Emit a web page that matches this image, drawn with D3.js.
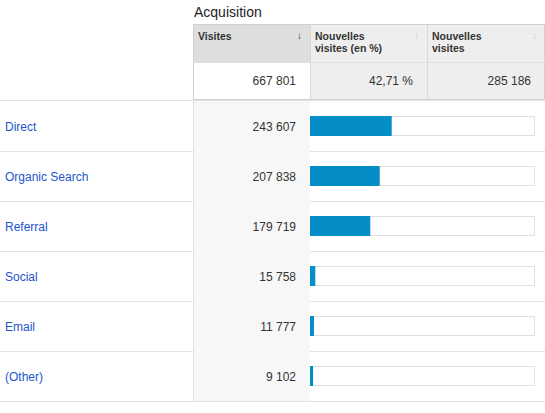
<!DOCTYPE html><html><head><meta charset="utf-8"><script src="https://d3js.org/d3.v7.min.js"></script>
<style>body{margin:0;background:#fff}</style></head><body><svg id="c" width="545" height="413"></svg>
<script>
const categories=["Direct","Organic Search","Referral","Social","Email","(Other)"];
const visits=[243607,207838,179719,15758,11777,9102];
const visitLabels=["243 607","207 838","179 719","15 758","11 777","9 102"];
const headers=["Visites","Nouvelles\nvisites (en %)","Nouvelles\nvisites"];
const totals=["667 801","42,71 %","285 186"];
const totalVisits=667801;
const svg=d3.select("#c"),F="Arial, Liberation Sans, sans-serif";
const colX=[193,310,427,545];
svg.append("text").attr("x",194).attr("y",17).attr("font-family",F).attr("font-size",14).attr("fill","#222").text("Acquisition");
// header
headers.forEach((h,i)=>{
 svg.append("rect").attr("x",colX[i]).attr("y",24).attr("width",colX[i+1]-colX[i]).attr("height",38).attr("fill",i==0?"#dedede":"#eeeeee");
 h.split("\n").forEach((l,j)=>svg.append("text").attr("x",colX[i]+5).attr("y",40+j*12).attr("font-family",F).attr("font-size",10.5).attr("font-weight","bold").attr("fill","#333").text(l));
 svg.append("text").attr("x",colX[i+1]-8).attr("y",39).attr("text-anchor","end").attr("font-family",F).attr("font-size",10).attr("fill",i==0?"#444":"#ccc").text("↓");
 svg.append("rect").attr("x",colX[i]).attr("y",62).attr("width",colX[i+1]-colX[i]).attr("height",38).attr("fill",i==0?"#fff":"#eeeeee");
 svg.append("text").attr("x",colX[i+1]-14).attr("y",85).attr("text-anchor","end").attr("font-family",F).attr("font-size",12).attr("fill","#333").text(totals[i]);
 if(i>0)svg.append("line").attr("x1",colX[i]+.5).attr("x2",colX[i]+.5).attr("y1",24).attr("y2",100).attr("stroke","#d8d8d8");
});
svg.append("rect").attr("x",193.5).attr("y",24.5).attr("width",351).attr("height",75).attr("fill","none").attr("stroke","#d0d0d0");
svg.append("line").attr("x1",193).attr("x2",545).attr("y1",62.5).attr("y2",62.5).attr("stroke","#e0e0e0");
const y=d3.scaleBand().domain(categories).range([101,401]);
const x=d3.scaleLinear().domain([0,totalVisits]).range([310,534]);
svg.append("line").attr("x1",0).attr("x2",545).attr("y1",100.5).attr("y2",100.5).attr("stroke","#e3e3e3");
const g=svg.selectAll("g.r").data(categories).join("g");
g.append("rect").attr("x",193).attr("y",d=>y(d)).attr("width",117).attr("height",y.bandwidth()).attr("fill","#f7f7f7");
g.append("line").attr("x1",0).attr("x2",545).attr("y1",d=>y(d)+y.bandwidth()+.5).attr("y2",d=>y(d)+y.bandwidth()+.5).attr("stroke","#e3e3e3");
g.append("text").attr("x",5).attr("y",d=>y(d)+30).attr("font-family",F).attr("font-size",12).attr("fill","#2255cc").text(d=>d);
g.append("text").attr("x",296).attr("y",d=>y(d)+30).attr("text-anchor","end").attr("font-family",F).attr("font-size",12).attr("fill","#333").text((d,i)=>visitLabels[i]);
g.append("rect").attr("x",310.5).attr("y",d=>y(d)+15.5).attr("width",x(totalVisits)-310).attr("height",19).attr("fill","#fff").attr("stroke","#e0e0e0");
g.append("rect").attr("x",310).attr("y",d=>y(d)+15).attr("width",(d,i)=>x(visits[i])-310).attr("height",20).attr("fill","#058dc7");
svg.append("line").attr("x1",193.5).attr("x2",193.5).attr("y1",100).attr("y2",401).attr("stroke","#e3e3e3");
</script></body></html>
